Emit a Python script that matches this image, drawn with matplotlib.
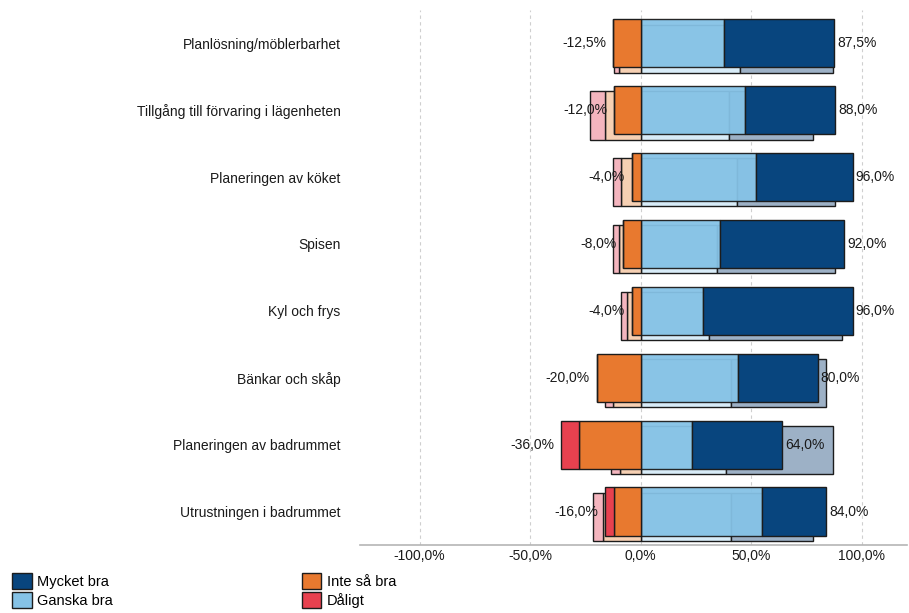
import numpy as np
import matplotlib as mpl
import matplotlib.pyplot as plt
from matplotlib.patches import Patch

mpl.use('Agg')
plt.rcParams['font.family'] = ['Liberation Sans', 'DejaVu Sans']

kategorier = ["Planlösning/möblerbarhet",
              "Tillgång till förvaring i lägenheten",
              "Planeringen av köket",
              "Spisen",
              "Kyl och frys",
              "Bänkar och skåp",
              "Planeringen av badrummet",
              "Utrustningen i badrummet"]

# andelar i procent, årets mätning
mycket_bra = [50.0, 41.0, 44.0, 56.0, 68.0, 36.0, 41.0, 29.0]
ganska_bra = [37.5, 47.0, 52.0, 36.0, 28.0, 44.0, 23.0, 55.0]
inte_sa_bra = [12.5, 12.0, 4.0, 8.0, 4.0, 20.0, 28.0, 12.0]
daligt = [0.0, 0.0, 0.0, 0.0, 0.0, 0.0, 8.0, 4.0]

# föregående mätning (skuggade staplar bakom)
mycket_bra_fg = [42.0, 38.0, 44.5, 53.5, 60.0, 43.0, 48.5, 37.0]
ganska_bra_fg = [45.0, 40.0, 43.5, 34.5, 31.0, 41.0, 38.5, 41.0]
inte_sa_bra_fg = [10.0, 16.0, 9.0, 10.0, 6.0, 12.5, 9.5, 17.0]
daligt_fg = [2.0, 7.0, 3.5, 2.5, 3.0, 3.5, 4.0, 4.5]

xticks = [-100, -50, 0, 50, 100]

farg = {"mycket": "#08457e", "ganska": "#85c2e6", "inte": "#e8792f", "daligt": "#e8414f"}
farg_fg = {"mycket": "#9db1c6", "ganska": "#d8ecf8", "inte": "#f6d0b3", "daligt": "#f4b5be"}
kant = "#1c1c1c"


def procent(v):
    return "{:.1f}%".format(v).replace(".", ",")


fig = plt.figure(figsize=(9.09, 6.13), dpi=100)
ax = fig.add_axes([0.396, 0.111, 0.602, 0.873])

y = np.arange(len(kategorier))
h = 0.72
dy = 0.08

mb = np.array(mycket_bra); gb = np.array(ganska_bra)
ib = np.array(inte_sa_bra); dl = np.array(daligt)
mb2 = np.array(mycket_bra_fg); gb2 = np.array(ganska_bra_fg)
ib2 = np.array(inte_sa_bra_fg); dl2 = np.array(daligt_fg)

# skuggade staplar, lite förskjutna nedåt
yg = y + dy
ax.barh(yg, gb2, height=h, color=farg_fg["ganska"], edgecolor=kant, linewidth=1, zorder=2)
ax.barh(yg, mb2, left=gb2, height=h, color=farg_fg["mycket"], edgecolor=kant, linewidth=1, zorder=2)
ax.barh(yg, -ib2, height=h, color=farg_fg["inte"], edgecolor=kant, linewidth=1, zorder=2)
ax.barh(yg, -dl2, left=-ib2, height=h, color=farg_fg["daligt"], edgecolor=kant, linewidth=1, zorder=2)

# årets staplar
ax.barh(y, gb, height=h, color=farg["ganska"], edgecolor=kant, linewidth=1, zorder=3, alpha=0.95)
ax.barh(y, mb, left=gb, height=h, color=farg["mycket"], edgecolor=kant, linewidth=1, zorder=3)
ax.barh(y, -ib, height=h, color=farg["inte"], edgecolor=kant, linewidth=1, zorder=3)
ax.barh(y, -dl, left=-ib, height=h, color=farg["daligt"], edgecolor=kant, linewidth=1, zorder=3)

neg = ib + dl
pos = gb + mb
for i in range(len(kategorier)):
    ax.annotate("-" + procent(neg[i]), (-neg[i], y[i]), xytext=(-5, 0),
                textcoords="offset points", ha="right", va="center",
                fontsize=10, color="#1a1a1a", zorder=5)
    ax.annotate(procent(pos[i]), (pos[i], y[i]), xytext=(2, 0),
                textcoords="offset points", ha="left", va="center",
                fontsize=10, color="#1a1a1a", zorder=5)

ax.set_xlim(-127, 120.5)
ax.set_ylim(len(kategorier) - 0.5, -0.5)
ax.set_xticks(xticks)
ax.set_xticklabels([procent(t) for t in xticks], fontsize=10, color="#1a1a1a")
ax.set_yticks(y)
ax.set_yticklabels(kategorier, fontsize=10, color="#1a1a1a")
ax.tick_params(axis="x", length=0, pad=3)
ax.tick_params(axis="y", length=0, pad=14)

for s in ["top", "right", "left"]:
    ax.spines[s].set_visible(False)
ax.spines["bottom"].set_color("#b5b5b5")
ax.spines["bottom"].set_linewidth(1.2)

ax.grid(axis="x", color="#cfcfcf", linestyle=(0, (3, 3)), linewidth=0.8, zorder=0)
ax.set_axisbelow(True)

leg1 = [Patch(facecolor=farg["mycket"], edgecolor=kant, label="Mycket bra"),
        Patch(facecolor=farg["ganska"], edgecolor=kant, label="Ganska bra")]
leg2 = [Patch(facecolor=farg["inte"], edgecolor=kant, label="Inte så bra"),
        Patch(facecolor=farg["daligt"], edgecolor=kant, label="Dåligt")]
for handles, x0 in [(leg1, 0.013), (leg2, 0.332)]:
    fig.legend(handles=handles, loc="upper left", bbox_to_anchor=(x0, 0.066),
               frameon=False, fontsize=10.5, handlelength=1.35, handleheight=1.4,
               labelspacing=0.15, handletextpad=0.35, borderpad=0, borderaxespad=0)

fig.savefig("out.png", dpi=100)
